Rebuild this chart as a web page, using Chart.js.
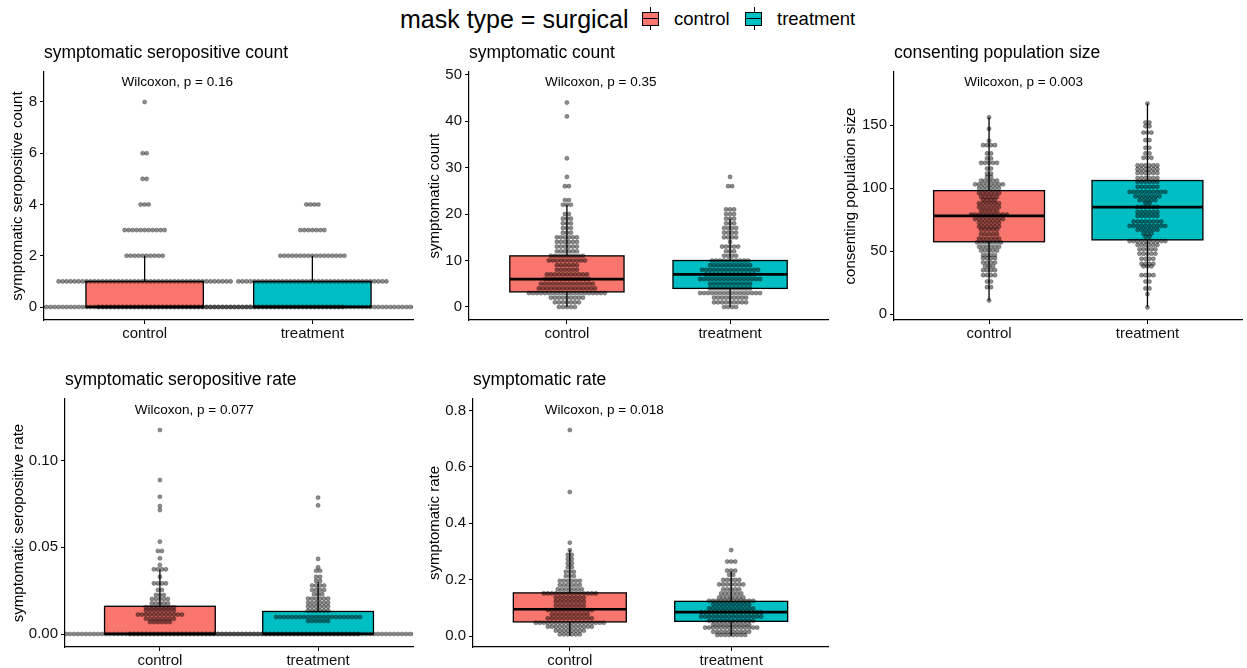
<!DOCTYPE html>
<html>
<head>
<meta charset="utf-8">
<script src="https://cdn.jsdelivr.net/npm/chart.js@4.4.0/dist/chart.umd.min.js"></script>
<style>
  body { margin: 0; width: 1247px; height: 668px; background: #fff; position: relative; overflow: hidden;
         font-family: "Liberation Sans", Arial, sans-serif; color: #000; }
  canvas { position: absolute; }
  .lg { position: absolute; white-space: nowrap; }
  .key { position: absolute; top: 12px; width: 15px; height: 12px; border: 1px solid #000; }
  .key .med { position: absolute; left: 0; right: 0; top: 5px; height: 1px; background: #000; }
  .whisk { position: absolute; top: 7px; width: 1px; height: 23px; background: #000; }
</style>
</head>
<body>

<div class="lg" style="left:400px;top:7px;font-size:25px;line-height:25px">mask type = surgical</div>
<div class="whisk" style="left:650px"></div>
<div class="key" style="left:642px;background:#F8766D"><div class="med"></div></div>
<div class="lg" style="left:674px;top:10px;font-size:18.5px;line-height:18.5px">control</div>
<div class="whisk" style="left:754px"></div>
<div class="key" style="left:745px;background:#00BFC4"><div class="med"></div></div>
<div class="lg" style="left:777px;top:10px;font-size:18.5px;line-height:18.5px">treatment</div>

<canvas id="c1" width="420" height="305" style="left:0px;top:40px"></canvas>
<canvas id="c2" width="420" height="305" style="left:420px;top:40px"></canvas>
<canvas id="c3" width="407" height="305" style="left:840px;top:40px"></canvas>
<canvas id="c4" width="420" height="301" style="left:0px;top:367px"></canvas>
<canvas id="c5" width="420" height="301" style="left:420px;top:367px"></canvas>

<script>
const groups = ["control", "treatment"];
const fillColors = ["#F8766D", "#00BFC4"];

const panelTitles = ["symptomatic seropositive count", "symptomatic count", "consenting population size",
                     "symptomatic seropositive rate", "symptomatic rate"];
const pLabels = ["Wilcoxon, p = 0.16", "Wilcoxon, p = 0.35", "Wilcoxon, p = 0.003",
                 "Wilcoxon, p = 0.077", "Wilcoxon, p = 0.018"];

// dot rows: [value, number of dots]
const seroCountControl = [[0,100],[1,44],[2,10],[3,11],[4,3],[5,2],[6,2],[8,1]];
const seroCountTreatment = [[0,108],[1,38],[2,17],[3,7],[4,4]];
// boxes: [lower whisker, q1, median, q3, upper whisker]
const seroCountBoxes = [[0,0,0,1,2],[0,0,0,1,2]];
const seroCountTicks = [0,2,4,6,8];
const seroCountTickLabels = ["0","2","4","6","8"];

const symCountControl = [[0,5],[1,7],[2,9],[3,20],[4,15],[5,14],[6,12],[7,11],[8,6],[9,6],[10,10],[11,9],
  [12,6],[13,6],[14,6],[15,6],[16,3],[17,3],[18,3],[19,3],[20,2],[22,3],[23,2],[26,2],[28,1],[32,1],[41,1],[44,1]];
const symCountTreatment = [[0,4],[1,9],[2,9],[3,16],[4,11],[5,11],[6,16],[7,13],[8,15],[9,11],[10,10],[11,4],
  [12,3],[13,5],[14,1],[15,4],[16,4],[17,4],[18,3],[19,3],[20,3],[21,3],[26,2],[28,1]];
const symCountBoxes = [[0,3.25,6,11,22],[0,4,7,10,19]];
const symCountTicks = [0,10,20,30,40,50];
const symCountTickLabels = ["0","10","20","30","40","50"];

const popControl = [[156,1],[147,1],[137.5,1],[134,4],[127.5,2],[123.5,2],[120,5],[115.5,2],[111.5,2],[109,2],
  [106,5],[103,8],[100,6],[96,6],[93,5],[90.5,4],[88,6],[85,6],[82,5],[79,10],[75.5,8],[72.5,6],[69.5,6],[67,5],
  [63.5,5],[60,6],[57,7],[53.5,6],[50.5,5],[47,4],[44.5,4],[41,4],[38,3],[35,4],[31,4],[26,2],[21.5,2],[11,1]];
const popTreatment = [[167,1],[152,2],[149,2],[144,3],[138,2],[132,2],[127.5,2],[124,3],[118,6],[115,6],[112,6],
  [108,6],[105,6],[101,6],[97,10],[93.5,7],[90.5,5],[88,2],[85,6],[81,6],[78,6],[73.5,8],[70,10],[67,6],[64,3],
  [61.5,2],[58,10],[55,6],[51.5,5],[48,5],[44,4],[40,4],[38,3],[31,4],[26,2],[20.5,2],[16,1],[5.5,1]];
const popBoxes = [[11,57.5,78,98,156],[6,59,85,106,167]];
const popTicks = [0,50,100,150];
const popTickLabels = ["0","50","100","150"];

const seroRateControl = [[0,100],[0.0069,6],[0.0088,8],[0.0112,12],[0.0135,8],[0.0154,8],[0.0177,5],[0.0202,5],
  [0.0225,3],[0.0254,2],[0.0292,4],[0.033,1],[0.0373,4],[0.0398,1],[0.0437,1],[0.0479,2],[0.0533,1],[0.0715,1],
  [0.0738,1],[0.0792,1],[0.0888,1],[0.1177,1]];
const seroRateTreatment = [[0,95],[0.0075,6],[0.0098,22],[0.0135,6],[0.0158,6],[0.018,6],[0.0204,6],[0.023,3],
  [0.0254,4],[0.028,4],[0.0306,2],[0.033,2],[0.0365,2],[0.0385,1],[0.0433,1],[0.0742,1],[0.0787,1]];
const seroRateBoxes = [[0,0,0,0.016,0.037],[0,0,0,0.013,0.030]];
const seroRateTicks = [0,0.05,0.1];
const seroRateTickLabels = ["0.00","0.05","0.10"];

const symRateControl = [[0.006,6],[0.019,8],[0.033,12],[0.047,18],[0.063,12],[0.077,10],[0.092,12],[0.107,8],
  [0.122,8],[0.136,8],[0.151,14],[0.166,7],[0.181,6],[0.196,6],[0.213,3],[0.228,3],[0.244,2],[0.258,2],
  [0.273,2],[0.288,2],[0.305,1],[0.331,1],[0.511,1],[0.731,1]];
const symRateTreatment = [[0.004,8],[0.015,10],[0.03,14],[0.041,10],[0.054,12],[0.069,16],[0.084,16],[0.098,12],
  [0.112,10],[0.125,12],[0.137,7],[0.151,6],[0.166,5],[0.183,7],[0.199,5],[0.217,2],[0.232,3],[0.264,3],[0.305,1]];
const symRateBoxes = [[0,0.05,0.095,0.153,0.306],[0,0.052,0.085,0.123,0.23]];
const symRateTicks = [0,0.2,0.4,0.6,0.8];
const symRateTickLabels = ["0.0","0.2","0.4","0.6","0.8"];

const FONT = '"Liberation Sans", Arial, sans-serif';

// layout of each panel inside its canvas
const panels = [
  {id:'c1', rows:[seroCountControl, seroCountTreatment], boxes:seroCountBoxes, ticks:seroCountTicks,
   labels:seroCountTickLabels, yMin:-0.507, yMax:9.17, axisW:44, padTop:32, padRight:7, axisH:25, titlePad:9,
   pX:0.862, pY:8.78},
  {id:'c2', rows:[symCountControl, symCountTreatment], boxes:symCountBoxes, ticks:symCountTicks,
   labels:symCountTickLabels, yMin:-2.8, yMax:50.57, axisW:49, padTop:32, padRight:12, axisH:25, titlePad:6,
   pX:0.866, pY:48.4},
  {id:'c3', rows:[popControl, popTreatment], boxes:popBoxes, ticks:popTicks,
   labels:popTickLabels, yMin:-4.5, yMax:192, axisW:54, padTop:32, padRight:2, axisH:25, titlePad:2,
   pX:0.843, pY:183.7},
  {id:'c4', rows:[seroRateControl, seroRateTreatment], boxes:seroRateBoxes, ticks:seroRateTicks,
   labels:seroRateTickLabels, yMin:-0.0075, yMax:0.1356, axisW:65, padTop:32, padRight:7, axisH:21, titlePad:9.5,
   pX:0.841, pY:0.1293},
  {id:'c5', rows:[symRateControl, symRateTreatment], boxes:symRateBoxes, ticks:symRateTicks,
   labels:symRateTickLabels, yMin:-0.039, yMax:0.841, axisW:53, padTop:32, padRight:12, axisH:21, titlePad:6,
   pX:0.845, pY:0.802}
];

function dotPoints(rows, g, step) {
  const pts = [];
  rows.forEach(([v, n]) => {
    for (let i = 0; i < n; i++) pts.push({x: g + (i - (n - 1) / 2) * step, y: v});
  });
  return pts;
}

function boxPlugin(p, k) {
  return {
    id: 'boxes' + k,
    beforeDatasetsDraw(chart) {
      const {ctx, scales: {x, y}} = chart;
      ctx.save();
      p.boxes.forEach((b, i) => {
        const g = i + 1;
        const [lo, q1, med, q3, hi] = b;
        const xl = x.getPixelForValue(g - 0.35), xr = x.getPixelForValue(g + 0.35), xc = x.getPixelForValue(g);
        ctx.strokeStyle = '#000';
        ctx.lineWidth = 1.3;
        ctx.beginPath();
        ctx.moveTo(xc, y.getPixelForValue(q3)); ctx.lineTo(xc, y.getPixelForValue(hi));
        ctx.moveTo(xc, y.getPixelForValue(q1)); ctx.lineTo(xc, y.getPixelForValue(lo));
        ctx.stroke();
        const yt = y.getPixelForValue(q3), yb = y.getPixelForValue(q1);
        ctx.fillStyle = fillColors[i];
        ctx.fillRect(xl, yt, xr - xl, yb - yt);
        ctx.strokeRect(xl, yt, xr - xl, yb - yt);
        ctx.lineWidth = 2.7;
        ctx.beginPath();
        const ym = y.getPixelForValue(med);
        ctx.moveTo(xl, ym); ctx.lineTo(xr, ym);
        ctx.stroke();
      });
      ctx.restore();
    },
    afterDraw(chart) {
      const {ctx, chartArea, scales: {x, y}} = chart;
      ctx.save();
      ctx.fillStyle = '#000';
      ctx.textBaseline = 'alphabetic';
      ctx.textAlign = 'left';
      ctx.font = '17.5px ' + FONT;
      ctx.fillText(panelTitles[k], chartArea.left, chartArea.top - 14);
      ctx.font = '13.5px ' + FONT;
      ctx.textBaseline = 'middle';
      ctx.fillText(pLabels[k], x.getPixelForValue(p.pX), y.getPixelForValue(p.pY));
      ctx.restore();
    }
  };
}

const yTitles = panelTitles;

panels.forEach((p, k) => {
  const canvas = document.getElementById(p.id);
  const plotW = canvas.width - p.axisW - p.padRight;
  const step = 4 * 2.2 / plotW;
  new Chart(canvas.getContext('2d'), {
    type: 'scatter',
    data: {
      datasets: p.rows.map((rows, i) => ({
        label: groups[i],
        data: dotPoints(rows, i + 1, step),
        pointRadius: 2.1,
        pointBackgroundColor: 'rgba(0,0,0,0.45)',
        pointBorderColor: 'rgba(0,0,0,0.5)',
        pointBorderWidth: 0.5,
        clip: 0
      }))
    },
    options: {
      responsive: false,
      animation: false,
      events: [],
      layout: {padding: {left: 0, top: p.padTop, right: p.padRight, bottom: 0}},
      plugins: {legend: {display: false}, tooltip: {enabled: false}},
      scales: {
        x: {
          type: 'linear', min: 0.4, max: 2.6,
          afterBuildTicks: s => { s.ticks = [{value: 1}, {value: 2}]; },
          afterFit: s => { s.height = p.axisH; },
          grid: {drawOnChartArea: false, drawTicks: true, tickLength: 4, color: '#000', lineWidth: 1},
          border: {display: true, color: '#000', width: 1.2},
          ticks: {callback: (v, i) => groups[i], color: '#111', padding: 1, maxRotation: 0, autoSkip: false,
                  font: {family: FONT, size: 15}}
        },
        y: {
          type: 'linear', min: p.yMin, max: p.yMax,
          afterBuildTicks: s => { s.ticks = p.ticks.map(v => ({value: v})); },
          afterFit: s => { s.width = p.axisW; },
          grid: {drawOnChartArea: false, drawTicks: true, tickLength: 4, color: '#000', lineWidth: 1},
          border: {display: true, color: '#000', width: 1.2},
          ticks: {callback: (v, i) => p.labels[i], color: '#111', padding: 3, autoSkip: false,
                  font: {family: FONT, size: 15}},
          title: {display: true, text: yTitles[k], color: '#000', font: {family: FONT, size: 15},
                  padding: {top: p.titlePad, bottom: 0}}
        }
      }
    },
    plugins: [boxPlugin(p, k)]
  });
});
</script>
</body>
</html>
